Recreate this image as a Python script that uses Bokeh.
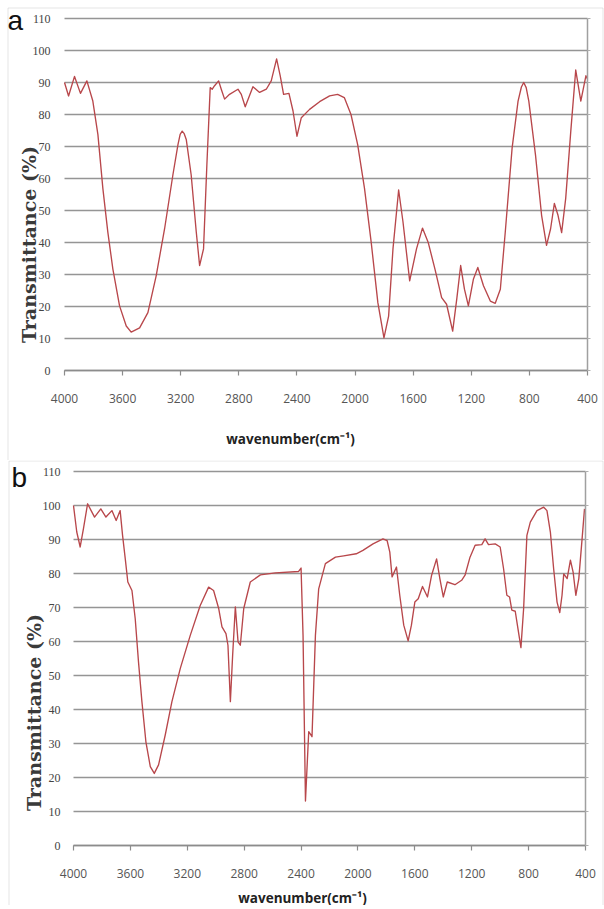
import math
from bokeh.plotting import figure
from bokeh.models import (Range1d, FixedTicker, Label, BoxAnnotation, LinearAxis, Grid)
from bokeh.layouts import column
from bokeh.embed import file_html
from bokeh.resources import INLINE

# ---------------- data ----------------
x_ticks = [4000, 3600, 3200, 2800, 2400, 2000, 1600, 1200, 800, 400]
y_ticks = [0, 10, 20, 30, 40, 50, 60, 70, 80, 90, 100, 110]

wn_a = [4000, 3972, 3931, 3890, 3846, 3805, 3770, 3736, 3702, 3667, 3621, 3575,
        3541, 3483, 3426, 3369, 3311, 3254, 3219, 3204, 3190, 3176, 3162, 3128, 3093, 3070,
        3043, 3020, 2997, 2983, 2967, 2939, 2921, 2898, 2864, 2806, 2783, 2756,
        2703, 2657, 2611, 2577, 2540, 2515, 2492, 2455, 2427, 2400, 2370, 2313,
        2244, 2175, 2120, 2074, 2028, 1982, 1935, 1889, 1843, 1801, 1769, 1739,
        1700, 1670, 1624, 1577, 1536, 1497, 1450, 1404, 1370, 1328, 1300, 1273,
        1247, 1220, 1185, 1155, 1116, 1069, 1035, 1000, 966, 919, 878, 855, 839, 822, 804,
        758, 716, 682, 654, 628, 603, 578, 550, 515, 481, 446, 411, 400]
tr_a = [90.0, 85.8, 91.9, 86.6, 90.5, 84.2, 73.7, 56.9, 43.3, 31.7, 20.2, 13.9,
        12.0, 13.3, 18.1, 29.6, 44.3, 61.1, 70.6, 73.8, 74.8, 74.0, 72.2, 61.1, 43.3, 32.8,
        38.0, 64.3, 88.4, 87.9, 89.0, 90.5, 87.9, 84.8, 86.3, 87.9, 86.3, 82.4,
        88.7, 86.9, 87.9, 90.5, 97.4, 92.1, 86.3, 86.6, 81.1, 73.2, 79.0, 81.6,
        84.0, 85.8, 86.3, 85.3, 80.0, 70.6, 56.9, 40.1, 21.2, 10.2, 17.0, 38.0,
        56.4, 46.4, 28.0, 38.0, 44.5, 40.1, 31.7, 22.8, 20.7, 12.3, 22.3, 32.8,
        25.4, 20.2, 28.6, 32.2, 26.5, 21.7, 21.0, 25.4, 43.3, 69.5, 84.2, 88.6, 90.0, 88.4, 84.2,
        67.4, 48.5, 39.1, 44.3, 52.2, 48.5, 43.1, 53.8, 74.8, 93.9, 84.2, 92.1, 91.1]

wn_b = [4000, 3977, 3953, 3930, 3901, 3876, 3852, 3808, 3772, 3730, 3700, 3672,
        3655, 3636, 3618, 3589, 3566, 3543, 3519, 3491, 3460, 3432, 3402, 3355,
        3308, 3249, 3179, 3109, 3050, 3015, 2979, 2956, 2928, 2914, 2897, 2881,
        2862, 2843, 2827, 2803, 2757, 2686, 2581, 2417, 2400, 2386, 2369, 2346,
        2323, 2299, 2276, 2229, 2158, 2100, 2012, 1965, 1894, 1824, 1795, 1776,
        1760, 1729, 1706, 1678, 1647, 1624, 1600, 1576, 1546, 1511, 1482, 1447,
        1424, 1400, 1372, 1318, 1271, 1247, 1212, 1176, 1129, 1106, 1082, 1035,
        1000, 976, 953, 934, 918, 894, 875, 854, 835, 812, 788, 741, 694, 671,
        647, 624, 600, 581, 565, 553, 529, 506, 487, 468, 447, 424, 407]
tr_b = [100.0, 92.2, 87.8, 93.2, 100.5, 98.5, 96.6, 99.0, 96.6, 98.5, 95.6, 98.5,
        91.2, 84.3, 77.5, 75.0, 66.7, 54.0, 42.3, 30.5, 23.2, 21.2, 23.7, 32.5,
        42.3, 52.1, 61.8, 70.6, 76.0, 75.0, 69.7, 64.3, 62.3, 58.9, 42.3, 56.0,
        70.2, 59.9, 58.9, 69.7, 77.5, 79.6, 80.2, 80.6, 81.6, 61.8, 13.1, 33.5,
        32.0, 61.8, 75.5, 82.9, 84.8, 85.2, 85.8, 86.8, 88.7, 90.2, 89.7, 86.3,
        79.0, 81.9, 73.6, 64.8, 60.2, 64.8, 71.6, 72.6, 76.2, 73.1, 79.5, 84.3,
        78.5, 73.1, 77.5, 76.7, 78.0, 79.5, 84.8, 88.3, 88.5, 90.2, 88.5, 88.7,
        87.8, 81.4, 73.6, 73.1, 69.2, 68.9, 63.8, 58.2, 69.7, 91.2, 95.1, 98.5, 99.5, 98.5,
        92.2, 81.4, 71.6, 68.5, 73.6, 79.9, 78.5, 83.9, 80.4, 73.6, 78.5, 90.2, 99.0]

X_MAX, X_MIN = 4000, 400
Y_MIN, Y_MAX = 0, 110

LINE_COLOR = "#b8474b"
GRID_COLOR = "#959595"
AXIS_COLOR = "#8c8c8c"
FRAME_COLOR = "#a8a8a8"
W = 604


def make_panel(wn, tr, letter, height, plot_box, ylab_xy, xlab_xy, letter_xy,
               box, ystandoff):
    px_l, px_r, px_t, px_b = plot_box   # canvas pixels of the plotting area
    sx = (px_r - px_l) / (X_MAX - X_MIN)
    sy = (px_b - px_t) / (Y_MAX - Y_MIN)
    xr = Range1d(X_MAX + px_l / sx, X_MIN - (W - px_r) / sx)
    yr = Range1d(Y_MIN - (height - px_b) / sy, Y_MAX + px_t / sy)

    p = figure(width=W, height=height, x_range=xr, y_range=yr,
               x_axis_location=None, y_axis_location=None,
               output_backend="svg", toolbar_location=None, min_border=0)
    p.outline_line_color = None
    p.background_fill_color = "white"
    p.border_fill_color = "white"
    for g in p.grid:
        g.visible = False

    # horizontal grid lines, only across the plotting area
    if "cross_bounds" in Grid.properties():
        grid = Grid(dimension=1, ticker=FixedTicker(ticks=y_ticks),
                    bounds=(Y_MIN, Y_MAX), cross_bounds=(X_MIN, X_MAX),
                    grid_line_color=GRID_COLOR, grid_line_width=1.6)
        p.add_layout(grid)
    else:
        p.segment(x0=[X_MAX] * len(y_ticks), x1=[X_MIN] * len(y_ticks),
                  y0=y_ticks, y1=y_ticks, line_color=GRID_COLOR, line_width=1.6)

    p.line(wn, tr, line_color=LINE_COLOR, line_width=1.35, line_join="round")

    xa = LinearAxis(fixed_location=Y_MIN, bounds=(X_MIN, X_MAX),
                    ticker=FixedTicker(ticks=x_ticks))
    xa.axis_line_color = AXIS_COLOR
    xa.axis_line_width = 1.5
    xa.major_tick_line_color = AXIS_COLOR
    xa.major_tick_line_width = 1.2
    xa.major_tick_out = 5
    xa.major_tick_in = 0
    xa.minor_tick_line_color = None
    xa.major_label_text_font = "Open Sans"
    xa.major_label_text_font_size = "12px"
    xa.major_label_text_color = "#555555"
    xa.major_label_standoff = 18
    p.add_layout(xa, "below")

    ya = LinearAxis(fixed_location=X_MAX, bounds=(Y_MIN, Y_MAX),
                    ticker=FixedTicker(ticks=y_ticks))
    ya.axis_line_color = None
    ya.major_tick_line_color = None
    ya.minor_tick_line_color = None
    ya.major_tick_out = 0
    ya.major_tick_in = 0
    ya.major_label_text_font = "Liberation Serif"
    ya.major_label_text_font_size = "12px"
    ya.major_label_text_color = "#444444"
    ya.major_label_standoff = ystandoff
    p.add_layout(ya, "left")

    yr_axis = LinearAxis(fixed_location=X_MIN, bounds=(Y_MIN, Y_MAX),
                         ticker=FixedTicker(ticks=y_ticks))
    yr_axis.axis_line_color = "#a0a0a0"
    yr_axis.axis_line_width = 1.5
    yr_axis.major_tick_line_color = "#b0b0b0"
    yr_axis.major_tick_out = 3
    yr_axis.major_tick_in = 0
    yr_axis.minor_tick_line_color = None
    yr_axis.major_label_text_alpha = 0
    yr_axis.major_label_text_font_size = "1px"
    p.add_layout(yr_axis, "right")

    # outer panel border
    b_left, b_top, b_right = box
    p.add_layout(BoxAnnotation(left=b_left, right=b_right, top=b_top, bottom=height + 40,
                               left_units="canvas", right_units="canvas",
                               top_units="canvas", bottom_units="canvas",
                               fill_alpha=0, line_color=FRAME_COLOR, line_width=1))

    p.add_layout(Label(x=ylab_xy[0], y=ylab_xy[1], x_units="canvas", y_units="canvas",
                       text="Transmittance (%)", angle=math.pi / 2,
                       text_align="center", text_baseline="middle",
                       text_font="DejaVu Serif", text_font_style="bold",
                       text_font_size="19px", text_color="#3a3a3a"))
    p.add_layout(Label(x=xlab_xy[0], y=xlab_xy[1], x_units="canvas", y_units="canvas",
                       text="wavenumber(cm\u207b\u00b9)",
                       text_align="center", text_baseline="middle",
                       text_font="Open Sans", text_font_style="bold",
                       text_font_size="13.5px", text_color="#222222"))
    p.add_layout(Label(x=letter_xy[0], y=letter_xy[1], x_units="canvas", y_units="canvas",
                       text=letter, text_align="left", text_baseline="alphabetic",
                       text_font="Liberation Sans", text_font_size="28px",
                       text_color="#111111"))
    return p


pa = make_panel(wn_a, tr_a, "a", 460, (64, 587, 18, 370),
                (28, 244), (290, 438), (7, 20), (7.5, 7.5, 602.5), 14)
pb = make_panel(wn_b, tr_b, "b", 445, (73, 585, 11, 385),
                (33, 252), (302, 437), (11, 17), (8.5, 0.5, 602.5), 13)

layout = column(pa, pb, spacing=0)
open("out.html", "w").write(file_html(layout, INLINE))
